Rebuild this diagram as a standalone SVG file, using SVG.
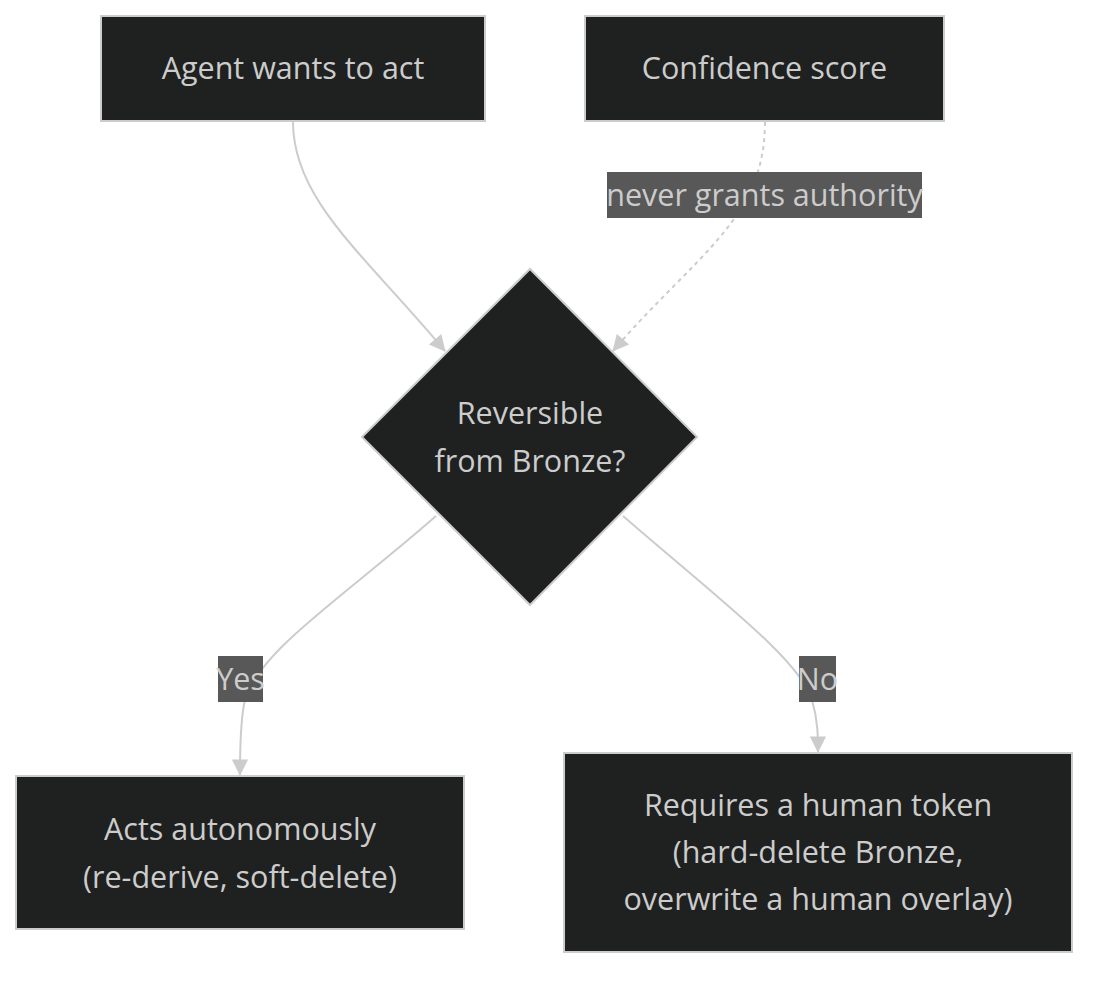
<svg xmlns="http://www.w3.org/2000/svg" width="1104" height="984" viewBox="0 0 1104 984">
<defs>
<style>
.node{fill:#1f2020;stroke:#cccccc;stroke-width:2}
.t{fill:#cccccc;font-family:"Open Sans","DejaVu Sans",sans-serif;font-size:30.5px;text-anchor:middle;dominant-baseline:central}
.edge{fill:none;stroke:#cccccc;stroke-width:2}
.dash{stroke-dasharray:4 4}
.lbl{fill:#585858}
</style>
<marker id="ah" viewBox="0 0 10 10" refX="9" refY="5" markerWidth="9" markerHeight="9" markerUnits="userSpaceOnUse" orient="auto" overflow="visible">
<path d="M0,0 L10,5 L0,10 z" fill="#cccccc" transform="scale(1.8) translate(-4.5,-2.2)"/>
</marker>
</defs>
<rect width="1104" height="984" fill="#ffffff"/>
<g id="connectors">
<path class="edge" d="M293,122 C293,200 365,255 445,351" marker-end="url(#ah)"/>
<path class="edge dash" d="M765,122 C765,220 695,255 613,351" marker-end="url(#ah)"/>
<path class="edge" d="M436,516 C340,600 260,650 245,700 C240,720 240,755 240,775" marker-end="url(#ah)"/>
<path class="edge" d="M623,516 C720,600 800,660 812,700 C818,720 818,738 818,752" marker-end="url(#ah)"/>
<g id="edge-labels">
<rect class="lbl" x="607" y="172" width="315" height="46"/>
<text class="t" x="764.5" y="194">never grants authority</text>
<rect class="lbl" x="218" y="656" width="45" height="46"/>
<text class="t" x="240.5" y="678">Yes</text>
<rect class="lbl" x="799" y="656" width="37" height="46"/>
<text class="t" x="817.5" y="678">No</text>
</g>
</g>
<g id="agent">
<rect class="node" x="101" y="16" width="384" height="105"/>
<text class="t" x="293" y="67">Agent wants to act</text>
</g>
<g id="confidence">
<rect class="node" x="585" y="16" width="359" height="105"/>
<text class="t" x="764.5" y="67">Confidence score</text>
</g>
<g id="decision">
<polygon class="node" points="530,269 697,437 530,605 362,437"/>
<text class="t" x="530" y="412">Reversible</text>
<text class="t" x="530" y="460">from Bronze?</text>
</g>
<g id="autonomous">
<rect class="node" x="16" y="776" width="448" height="153"/>
<text class="t" x="240" y="828">Acts autonomously</text>
<text class="t" x="240" y="876">(re-derive, soft-delete)</text>
</g>
<g id="human">
<rect class="node" x="564" y="753" width="508" height="199"/>
<text class="t" x="818" y="804">Requires a human token</text>
<text class="t" x="818" y="851">(hard-delete Bronze,</text>
<text class="t" x="818" y="898">overwrite a human overlay)</text>
</g>
</svg>
